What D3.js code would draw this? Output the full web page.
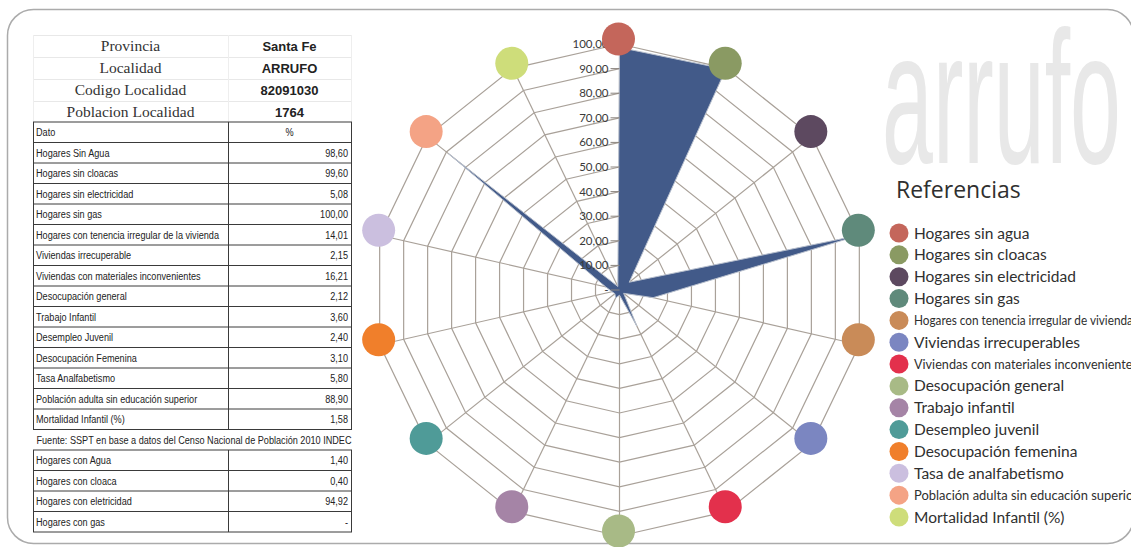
<!DOCTYPE html>
<html>
<head>
<meta charset="utf-8">
<script src="https://cdn.jsdelivr.net/npm/d3@7"></script>
<style>
  html, body { margin: 0; padding: 0; background: #ffffff; }
  svg { display: block; }
</style>
</head>
<body>
<svg id="chart" width="1131" height="547"></svg>
<script>
// ---------------- DATA ----------------
const headerLabels = ["Provincia", "Localidad", "Codigo Localidad", "Poblacion Localidad"];
const headerValues = ["Santa Fe", "ARRUFO", "82091030", "1764"];

const tableHead = ["Dato", "%"];
const tableLabels = [
  "Hogares Sin Agua",
  "Hogares sin cloacas",
  "Hogares sin electricidad",
  "Hogares sin gas",
  "Hogares con tenencia irregular de la vivienda",
  "Viviendas irrecuperable",
  "Viviendas con materiales inconvenientes",
  "Desocupación general",
  "Trabajo Infantil",
  "Desempleo Juvenil",
  "Desocupación Femenina",
  "Tasa Analfabetismo",
  "Población adulta  sin educación superior",
  "Mortalidad Infantil (%)"
];
const sourceNote = "Fuente: SSPT en base a datos del Censo Nacional de Población 2010 INDEC";
const extraLabels = ["Hogares con Agua", "Hogares con cloaca", "Hogares con eletricidad", "Hogares con gas"];
const extraValues = [1.40, 0.40, 94.92, null];

const categories = [
  "Hogares sin agua",
  "Hogares sin cloacas",
  "Hogares sin electricidad",
  "Hogares sin gas",
  "Hogares con tenencia irregular de viviendas",
  "Viviendas irrecuperables",
  "Viviendas con materiales inconvenientes",
  "Desocupación general",
  "Trabajo infantil",
  "Desempleo juvenil",
  "Desocupación femenina",
  "Tasa de analfabetismo",
  "Población adulta sin educación superior",
  "Mortalidad Infantil (%)"
];
const values = [98.60, 99.60, 5.08, 100.00, 14.01, 2.15, 16.21, 2.12, 3.60, 2.40, 3.10, 5.80, 88.90, 1.58];
const categoryColors = [
  "#c4665b", "#8a9a63", "#5d4960", "#5f8a7b", "#c98b58", "#7b86c1", "#e3304c",
  "#a8ba86", "#a584a6", "#4f9b98", "#f07f2b", "#cbbfdf", "#f4a385", "#cedd7a"
];
const axisMax = 100;
const legendTitle = "Referencias";
const watermark = "arrufo";

// ---------------- SETUP ----------------
const svg = d3.select("#chart");
const locale = d3.formatLocale({ decimal: ",", thousands: ".", grouping: [3], currency: ["$", ""] });
const fmt2 = locale.format(".2f");
const fmtCell = v => (v == null ? "-" : fmt2(v));

// outer rounded frame
svg.append("rect")
  .attr("x", 7.5).attr("y", 9.5)
  .attr("width", 1126).attr("height", 534)
  .attr("rx", 26).attr("ry", 26)
  .attr("fill", "none")
  .attr("stroke", "#ababab")
  .attr("stroke-width", 1.5);

// watermark
svg.append("text")
  .attr("x", 882).attr("y", 163)
  .attr("font-family", "'Liberation Sans', Arial, sans-serif")
  .attr("font-size", 190)
  .attr("textLength", 239)
  .attr("lengthAdjust", "spacingAndGlyphs")
  .attr("fill", "#e8e8e8")
  .text(watermark);

// ---------------- TABLE ----------------
const tX0 = 33, tX1 = 228, tX2 = 351;
const tbl = svg.append("g");
const cellFont = "'Liberation Sans', Arial, sans-serif";
const squeeze = 0.83;

function cellText(g, x, y, str, anchor) {
  return g.append("text")
    .attr("transform", `translate(${x},${y}) scale(${squeeze},1)`)
    .attr("text-anchor", anchor || "start")
    .attr("font-family", cellFont)
    .attr("font-size", 11)
    .attr("fill", "#222")
    .text(str);
}

// header block
const hy = d3.scaleBand().domain(d3.range(headerLabels.length)).range([35, 123]);
const hg = tbl.append("g");
hy.domain().forEach(i => {
  hg.append("line").attr("x1", tX0).attr("x2", tX2)
    .attr("y1", hy(i) + 0.5).attr("y2", hy(i) + 0.5)
    .attr("stroke", "#e8e8e8");
});
[tX0, tX1, tX2].forEach(x => {
  hg.append("line").attr("x1", x + 0.5).attr("x2", x + 0.5).attr("y1", 35).attr("y2", 123)
    .attr("stroke", "#eeeeee");
});
hg.selectAll("text.hl").data(headerLabels).join("text")
  .attr("x", (tX0 + tX1) / 2)
  .attr("y", (d, i) => hy(i) + hy.bandwidth() / 2 + 4.5)
  .attr("text-anchor", "middle")
  .attr("font-family", "'Liberation Serif', 'DejaVu Serif', serif")
  .attr("font-size", 15.5)
  .attr("fill", "#333")
  .text(d => d);
hg.selectAll("text.hv").data(headerValues).join("text")
  .attr("x", (tX1 + tX2) / 2)
  .attr("y", (d, i) => hy(i) + hy.bandwidth() / 2 + 4.5)
  .attr("text-anchor", "middle")
  .attr("font-family", "'Liberation Sans', Arial, sans-serif")
  .attr("font-weight", "bold")
  .attr("font-size", 13)
  .attr("fill", "#222")
  .text(d => d);

// data rows
const rowH = 20.5;
const rowsTop = 122;
const mainRows = [{ label: tableHead[0], value: tableHead[1], head: true }]
  .concat(tableLabels.map((l, i) => ({ label: l, value: fmtCell(values[i]) })));
const extraRows = extraLabels.map((l, i) => ({ label: l, value: fmtCell(extraValues[i]) }));

function drawRows(rows, top) {
  const g = tbl.append("g");
  const y = d3.scaleLinear().domain([0, rows.length]).range([top, top + rows.length * rowH]);
  g.append("rect").attr("x", tX0 + 0.5).attr("y", y(0)).attr("width", tX2 - tX0)
    .attr("height", y(rows.length) - y(0)).attr("fill", "none").attr("stroke", "#3a3a3a");
  d3.range(1, rows.length).forEach(i => {
    g.append("line").attr("x1", tX0).attr("x2", tX2).attr("y1", y(i)).attr("y2", y(i))
      .attr("stroke", "#3a3a3a");
  });
  g.append("line").attr("x1", tX1 + 0.5).attr("x2", tX1 + 0.5).attr("y1", y(0)).attr("y2", y(rows.length))
    .attr("stroke", "#3a3a3a");
  rows.forEach((r, i) => {
    const ty = y(i) + rowH / 2 + 3.8;
    cellText(g, tX0 + 3, ty, r.label, "start");
    cellText(g, r.head ? (tX1 + tX2) / 2 : tX2 - 3, ty, r.value, r.head ? "middle" : "end");
  });
  return y(rows.length);
}
const mainBottom = drawRows(mainRows, rowsTop);
cellText(tbl, (tX0 + tX2) / 2 + 2, mainBottom + rowH / 2 + 3.8, sourceNote, "middle");
drawRows(extraRows, mainBottom + rowH);

// ---------------- RADAR ----------------
const cx = 619.5, cy = 290, R = 246;
const n = categories.length;
const angle = d3.scaleLinear().domain([0, n]).range([0, 2 * Math.PI]);
const rScale = d3.scaleLinear().domain([0, axisMax]).range([0, R]);
const ticks = rScale.ticks(10);
const radar = svg.append("g").attr("transform", `translate(${cx},${cy})`);
const gridColor = "#a9a199";

const ringLine = d3.lineRadial()
  .angle((d, i) => angle(i))
  .radius(d => rScale(d))
  .curve(d3.curveLinearClosed);

// rings
radar.append("g").selectAll("path").data(ticks.filter(t => t > 0)).join("path")
  .attr("d", t => ringLine(d3.range(n).map(() => t)))
  .attr("fill", "none").attr("stroke", gridColor).attr("stroke-width", 1.2);

// spokes
radar.append("g").selectAll("line").data(d3.range(n)).join("line")
  .attr("x1", 0).attr("y1", 0)
  .attr("x2", i => rScale(axisMax) * Math.sin(angle(i)))
  .attr("y2", i => -rScale(axisMax) * Math.cos(angle(i)))
  .attr("stroke", gridColor).attr("stroke-width", 1.2);

// data polygon
radar.append("path")
  .attr("d", ringLine(values))
  .attr("fill", "#425a89")
  .attr("stroke", "#b7bfcd")
  .attr("stroke-width", 1);

// axis tick marks + labels
const tickG = radar.append("g");
tickG.selectAll("line").data(ticks).join("line")
  .attr("x1", -9).attr("x2", 0)
  .attr("y1", t => -rScale(t)).attr("y2", t => -rScale(t))
  .attr("stroke", "#8a847e").attr("stroke-width", 1);
tickG.selectAll("text").data(ticks).join("text")
  .attr("x", -11)
  .attr("y", t => -rScale(t) + 4)
  .attr("text-anchor", "end")
  .attr("font-family", "Lato, 'Open Sans', sans-serif")
  .attr("font-size", 11.5)
  .attr("fill", "#3a3a3a")
  .text(t => (t === 0 ? "-" : fmt2(t)));

// category circles at outer vertices (pasted slightly above the vertices, as in the source)
radar.append("g").attr("transform", "translate(-1,-5)")
  .selectAll("circle").data(categories).join("circle")
  .attr("cx", (d, i) => rScale(axisMax) * Math.sin(angle(i)))
  .attr("cy", (d, i) => -rScale(axisMax) * Math.cos(angle(i)))
  .attr("r", 16.5)
  .attr("fill", (d, i) => categoryColors[i]);

// ---------------- LEGEND ----------------
svg.append("text")
  .attr("x", 896).attr("y", 198)
  .attr("font-family", "'Open Sans', 'Noto Sans', sans-serif")
  .attr("font-size", 23)
  .attr("fill", "#2f2f2f")
  .text(legendTitle);

const ly = d3.scaleLinear().domain([0, n - 1]).range([233, 517]);
const leg = svg.append("g");
categories.forEach((c, i) => {
  leg.append("circle").attr("cx", 899).attr("cy", ly(i)).attr("r", 9.5)
    .attr("fill", categoryColors[i]);
  const long = c.length > 30;
  const t = leg.append("text")
    .attr("x", 914).attr("y", ly(i) + (long ? 4.5 : 5.5))
    .attr("font-family", "Lato, 'Open Sans', sans-serif")
    .attr("font-size", long ? 13 : 15.5)
    .attr("fill", "#2f2f2f")
    .text(c);
  if (long) t.attr("textLength", 224).attr("lengthAdjust", "spacingAndGlyphs");
});
</script>
</body>
</html>
